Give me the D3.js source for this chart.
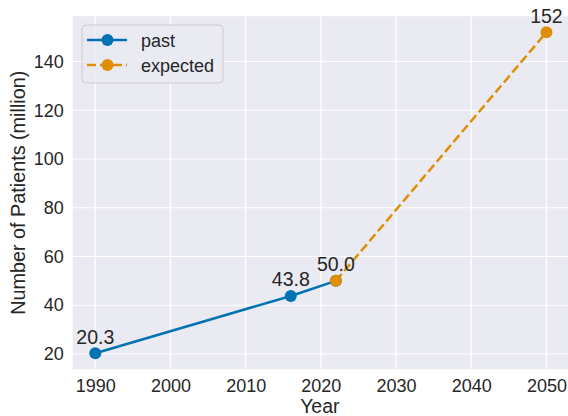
<!DOCTYPE html>
<html><head><meta charset="utf-8">
<script src="https://cdn.jsdelivr.net/npm/d3@7"></script>
<style>body{margin:0;background:#fff}svg{display:block}text{font-family:"Liberation Sans",Arial,sans-serif;fill:#262626}</style>
</head><body><svg id="c" width="568" height="416"></svg>
<script>
const pastYears = [1990, 2016, 2022];
const pastValues = [20.3, 43.8, 50.0];
const expectedYears = [2022, 2050];
const expectedValues = [50.0, 152];
const labelYears = [1990, 2016, 2022, 2050];
const labelValues = [20.3, 43.8, 50.0, 152];
const labelTexts = ["20.3", "43.8", "50.0", "152"];
const xTicks = [1990, 2000, 2010, 2020, 2030, 2040, 2050];
const yTicks = [20, 40, 60, 80, 100, 120, 140];
const seriesNames = ["past", "expected"];
const colors = ["#0173b2", "#de8f05"];

const svg = d3.select("#c");
const L = 72.7, R = 569, T = 16.2, B = 369.3;
const x = d3.scaleLinear().domain([1987, 2053]).range([L, R]);
const y = d3.scaleLinear().domain([13.715, 158.585]).range([B, T]);

svg.append("rect").attr("x", L).attr("y", T).attr("width", R - L).attr("height", B - T).attr("fill", "#eaeaf2");

const g = svg.append("g");
g.selectAll(".vg").data(xTicks).join("line").attr("x1", d => x(d)).attr("x2", d => x(d)).attr("y1", T).attr("y2", B).attr("stroke", "#fff").attr("stroke-width", 1.2);
g.selectAll(".hg").data(yTicks).join("line").attr("y1", d => y(d)).attr("y2", d => y(d)).attr("x1", L).attr("x2", R).attr("stroke", "#fff").attr("stroke-width", 1.2);

const xa = svg.append("g").attr("transform", `translate(0,${B})`).call(d3.axisBottom(x).tickValues(xTicks).tickFormat(d3.format("d")).tickSize(0).tickPadding(10));
xa.select(".domain").remove();
xa.selectAll("text").attr("font-size", 18).attr("fill", "#262626").attr("font-family", "Liberation Sans, Arial, sans-serif");
const ya = svg.append("g").attr("transform", `translate(${L},0)`).call(d3.axisLeft(y).tickValues(yTicks).tickSize(0).tickPadding(9));
ya.select(".domain").remove();
ya.selectAll("text").attr("font-size", 18).attr("fill", "#262626").attr("font-family", "Liberation Sans, Arial, sans-serif");

svg.append("text").attr("x", (L + R) / 2 - 1).attr("y", 413).attr("text-anchor", "middle").attr("font-size", 19.5).text("Year");
svg.append("text").attr("transform", `translate(25,${(T + B) / 2}) rotate(-90)`).attr("text-anchor", "middle").attr("font-size", 19.8).text("Number of Patients (million)");

const line = d3.line().x(d => x(d[0])).y(d => y(d[1]));
const past = pastYears.map((d, i) => [d, pastValues[i]]);
const exp = expectedYears.map((d, i) => [d, expectedValues[i]]);
svg.append("path").datum(past).attr("d", line).attr("fill", "none").attr("stroke", colors[0]).attr("stroke-width", 2.5);
svg.append("path").datum(exp).attr("d", line).attr("fill", "none").attr("stroke", colors[1]).attr("stroke-width", 2.5).attr("stroke-dasharray", "9,4");
svg.selectAll(".pm").data(past).join("circle").attr("cx", d => x(d[0])).attr("cy", d => y(d[1])).attr("r", 6).attr("fill", colors[0]);
svg.selectAll(".em").data(exp).join("circle").attr("cx", d => x(d[0])).attr("cy", d => y(d[1])).attr("r", 6).attr("fill", colors[1]);

svg.selectAll(".lab").data(labelYears).join("text").attr("x", d => x(d)).attr("y", (d, i) => y(labelValues[i]) - 9.5).attr("text-anchor", "middle").attr("font-size", 19.5).text((d, i) => labelTexts[i]);

// legend
const lg = svg.append("g");
lg.append("rect").attr("x", 82).attr("y", 25).attr("width", 141).attr("height", 58).attr("rx", 4).attr("fill", "#eaeaf2").attr("fill-opacity", 0.8).attr("stroke", "#cccccc").attr("stroke-width", 1);
seriesNames.forEach((n, i) => {
  const cy = 40 + i * 25;
  lg.append("line").attr("x1", 87).attr("x2", 127).attr("y1", cy).attr("y2", cy).attr("stroke", colors[i]).attr("stroke-width", 2.5).attr("stroke-dasharray", i ? "9,4" : null);
  lg.append("circle").attr("cx", 107.5).attr("cy", cy).attr("r", 6).attr("fill", colors[i]);
  lg.append("text").attr("x", 141).attr("y", cy + 6.5).attr("font-size", 18).text(n);
});
</script></body></html>
